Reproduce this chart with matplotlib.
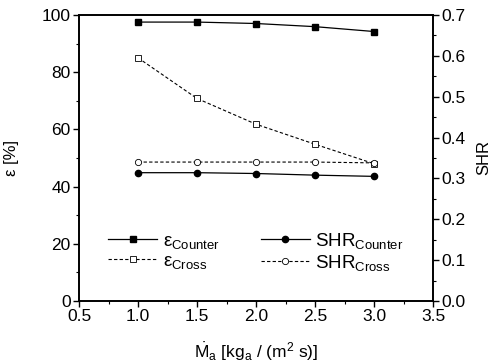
import matplotlib
matplotlib.use("Agg")
import matplotlib.pyplot as plt
from matplotlib.ticker import MultipleLocator

plt.rcParams['font.family'] = ['Liberation Sans', 'DejaVu Sans']
plt.rcParams['mathtext.fontset'] = 'custom'
plt.rcParams['mathtext.rm'] = 'Liberation Sans'
plt.rcParams['mathtext.it'] = 'Liberation Sans'

# air mass flux [kg/(m2 s)]
mass_flux = [1.0, 1.5, 2.0, 2.5, 3.0]
eps_counter = [97.5, 97.5, 97.0, 95.9, 94.2]
eps_cross = [85.0, 70.8, 61.8, 54.8, 48.0]
shr_counter = [0.314, 0.314, 0.312, 0.308, 0.305]
shr_cross = [0.340, 0.340, 0.340, 0.340, 0.338]

fig = plt.figure(figsize=(4.92, 3.64), dpi=100)
ax = fig.add_axes([0.1606, 0.173, 0.7195, 0.786])
ax2 = ax.twinx()

l1, = ax.plot(mass_flux, eps_counter, '-', color='black', lw=0.9,
              marker='s', ms=4.5, mfc='black', label=r'$\epsilon_{\mathrm{Counter}}$')
l2, = ax.plot(mass_flux, eps_cross, '--', color='black', lw=0.8, dashes=(3, 2),
              marker='s', ms=4.5, mfc='white', mew=0.6, label=r'$\epsilon_{\mathrm{Cross}}$')
l3, = ax2.plot(mass_flux, shr_counter, '-', color='black', lw=0.9,
               marker='o', ms=4.5, mfc='black', label=r'SHR$_{\mathrm{Counter}}$')
l4, = ax2.plot(mass_flux, shr_cross, '--', color='black', lw=0.8, dashes=(3, 2),
               marker='o', ms=4.5, mfc='white', mew=0.6, label=r'SHR$_{\mathrm{Cross}}$')

ax.set_xlim(0.5, 3.5)
ax.set_ylim(0, 100)
ax2.set_ylim(0, 0.7)

ax.xaxis.set_major_locator(MultipleLocator(0.5))
ax.xaxis.set_minor_locator(MultipleLocator(0.25))
ax.yaxis.set_major_locator(MultipleLocator(20))
ax.yaxis.set_minor_locator(MultipleLocator(10))
ax2.yaxis.set_major_locator(MultipleLocator(0.1))
ax2.yaxis.set_minor_locator(MultipleLocator(0.05))
ax.xaxis.set_major_formatter(plt.FormatStrFormatter('%.1f'))
ax2.yaxis.set_major_formatter(plt.FormatStrFormatter('%.1f'))

for a in (ax, ax2):
    a.tick_params(which='major', direction='out', length=4, width=1, labelsize=12.5, pad=2)
    a.tick_params(which='minor', direction='out', length=2, width=0.8)
    for s in a.spines.values():
        s.set_linewidth(1.2)

ax.set_ylabel('ε [%]', fontsize=12, labelpad=16)
ax2.set_ylabel('SHR', fontsize=12, labelpad=8)
ax.set_xlabel(r'$\dot{\mathrm{M}}_{\mathrm{a}}$ [kg$_{\mathrm{a}}$ / (m$^{2}$ s)]',
              fontsize=12.5, labelpad=12)

ax.legend([l1, l2, l3, l4],
          [l.get_label() for l in (l1, l2, l3, l4)],
          ncol=2, loc='lower center', bbox_to_anchor=(0.5, 0.04),
          frameon=False, fontsize=13.5, handlelength=2.6, columnspacing=2.2,
          labelspacing=0.1, handletextpad=0.3)

fig.savefig('out.png', dpi=100)
